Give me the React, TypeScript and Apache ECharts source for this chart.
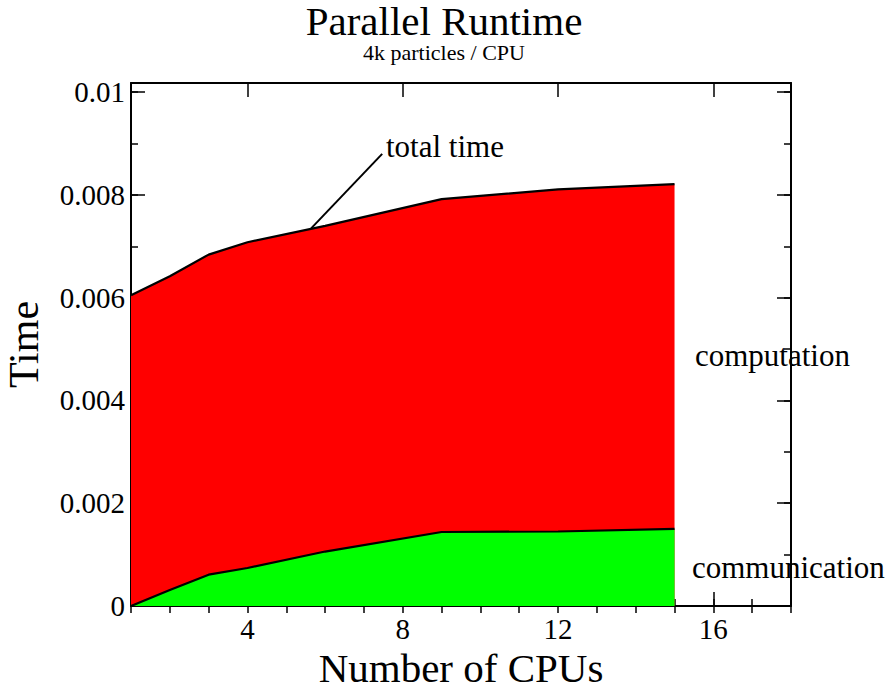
import React, { useEffect, useRef } from 'react';
import * as echarts from 'echarts';

// ---- data ----
const cpus = [1, 2, 3, 4, 6, 9, 12, 15];
const totalTime = [0.00605, 0.00642, 0.00684, 0.00708, 0.0074, 0.00792, 0.00811, 0.00821];
const commTime = [0, 0.00031, 0.00061, 0.00074, 0.00106, 0.00144, 0.00145, 0.0015];

const xMajorTicks = [4, 8, 12, 16];
const xMinorTicks = [1, 2, 3, 4, 5, 6, 7, 8, 9, 10, 11, 12, 13, 14, 15, 16, 17, 18];
const yMajorTicks = [0, 0.002, 0.004, 0.006, 0.008, 0.01];
const yMinorTicks = [0, 0.001, 0.002, 0.003, 0.004, 0.005, 0.006, 0.007, 0.008, 0.009, 0.01];

const X_MIN = 1;
const X_MAX = 18;
const Y_MIN = 0;
const Y_MAX = 0.01018;

// annotation pointer (data coords)
const pointerFrom = [5.64, 0.00735];
const pointerTo = [7.47, 0.0088];

const FONT = '"Liberation Serif", "Times New Roman", serif';

function App() {
  const ref = useRef<HTMLDivElement>(null);

  useEffect(() => {
    document.body.style.margin = '0';
    if (!ref.current) return;
    const chart = echarts.init(ref.current, null, { renderer: 'svg' });

    const frameLine = { show: true, onZero: false, lineStyle: { color: '#000', width: 2 } };
    const tickStyle = { color: '#000', width: 1.5 };

    const xBase = { type: 'value', min: X_MIN, max: X_MAX, splitLine: { show: false } };
    const yBase = { type: 'value', min: Y_MIN, max: Y_MAX, splitLine: { show: false } };

    const xy = (xs: number[], ys: number[]) => xs.map((x, i) => [x, ys[i]]);

    chart.setOption({
      animation: false,
      grid: { left: 131, right: 97, top: 83, bottom: 79, containLabel: false, outerBoundsMode: 'none' },
      xAxis: [
        {
          ...xBase,
          position: 'bottom',
          axisLine: frameLine,
          axisTick: { show: true, inside: true, length: 14, customValues: xMajorTicks, lineStyle: tickStyle },
          axisLabel: { customValues: xMajorTicks, fontFamily: FONT, fontSize: 29, color: '#000', margin: 8 },
          name: 'Number of CPUs',
          nameLocation: 'middle',
          nameGap: 33,
          nameTextStyle: { fontFamily: FONT, fontSize: 41, lineHeight: 41, color: '#000' },
        },
        {
          ...xBase,
          position: 'bottom',
          axisLine: { show: false },
          axisTick: { show: true, inside: true, length: 7, customValues: xMinorTicks, lineStyle: tickStyle },
          axisLabel: { show: false },
        },
        {
          ...xBase,
          position: 'top',
          axisLine: frameLine,
          axisTick: { show: true, inside: true, length: 14, customValues: xMajorTicks, lineStyle: tickStyle },
          axisLabel: { show: false },
        },
        {
          ...xBase,
          position: 'top',
          axisLine: { show: false },
          axisTick: { show: true, inside: true, length: 7, customValues: xMinorTicks, lineStyle: tickStyle },
          axisLabel: { show: false },
        },
      ],
      yAxis: [
        {
          ...yBase,
          position: 'left',
          axisLine: frameLine,
          axisTick: { show: true, inside: true, length: 14, customValues: yMajorTicks, lineStyle: tickStyle },
          axisLabel: {
            customValues: yMajorTicks,
            fontFamily: FONT,
            fontSize: 29,
            color: '#000',
            margin: 6,
            formatter: (v: number) => (v === 0 ? '0' : String(v)),
          },
          name: 'Time',
          nameLocation: 'middle',
          nameGap: 86,
          nameTextStyle: { fontFamily: FONT, fontSize: 42, color: '#000' },
        },
        {
          ...yBase,
          position: 'left',
          axisLine: { show: false },
          axisTick: { show: true, inside: true, length: 7, customValues: yMinorTicks, lineStyle: tickStyle },
          axisLabel: { show: false },
        },
        {
          ...yBase,
          position: 'right',
          axisLine: frameLine,
          axisTick: { show: true, inside: true, length: 14, customValues: yMajorTicks, lineStyle: tickStyle },
          axisLabel: { show: false },
        },
        {
          ...yBase,
          position: 'right',
          axisLine: { show: false },
          axisTick: { show: true, inside: true, length: 7, customValues: yMinorTicks, lineStyle: tickStyle },
          axisLabel: { show: false },
        },
      ],
      series: [
        {
          name: 'total time',
          type: 'line',
          xAxisIndex: 0,
          yAxisIndex: 0,
          data: xy(cpus, totalTime),
          symbol: 'none',
          lineStyle: { color: '#000', width: 2.2 },
          areaStyle: { color: '#ff0000', opacity: 1 },
          z: 2,
        },
        {
          name: 'communication',
          type: 'line',
          xAxisIndex: 0,
          yAxisIndex: 0,
          data: xy(cpus, commTime),
          symbol: 'none',
          lineStyle: { color: '#000', width: 2.2 },
          areaStyle: { color: '#00ff00', opacity: 1 },
          z: 3,
        },
      ],
    });

    const p1 = chart.convertToPixel({ xAxisIndex: 0, yAxisIndex: 0 }, pointerFrom) as number[];
    const p2 = chart.convertToPixel({ xAxisIndex: 0, yAxisIndex: 0 }, pointerTo) as number[];

    chart.setOption({
      graphic: [
        {
          type: 'text',
          x: 444,
          y: 0,
          style: {
            text: 'Parallel Runtime',
            fontFamily: FONT,
            fontSize: 41,
            lineHeight: 41,
            fill: '#000',
            align: 'center',
            verticalAlign: 'top',
          },
        },
        {
          type: 'text',
          x: 444,
          y: 41,
          style: {
            text: '4k particles / CPU',
            fontFamily: FONT,
            fontSize: 22,
            lineHeight: 22,
            fill: '#000',
            align: 'center',
            verticalAlign: 'top',
          },
        },
        {
          type: 'line',
          shape: { x1: p1[0], y1: p1[1], x2: p2[0], y2: p2[1] },
          style: { stroke: '#000', lineWidth: 2 },
          z: 10,
        },
        {
          type: 'text',
          x: 386,
          y: 146,
          style: { text: 'total time', fontFamily: FONT, fontSize: 31, fill: '#000', verticalAlign: 'middle' },
          z: 10,
        },
        {
          type: 'text',
          x: 695,
          y: 355,
          style: { text: 'computation', fontFamily: FONT, fontSize: 31, fill: '#000', verticalAlign: 'middle' },
          z: 10,
        },
        {
          type: 'text',
          x: 692,
          y: 567,
          style: { text: 'communication', fontFamily: FONT, fontSize: 31, fill: '#000', verticalAlign: 'middle' },
          z: 10,
        },
      ],
    });

    return () => {
      chart.dispose();
    };
  }, []);

  return <div ref={ref} style={{ width: 888, height: 685 }} />;
}

export default App;
